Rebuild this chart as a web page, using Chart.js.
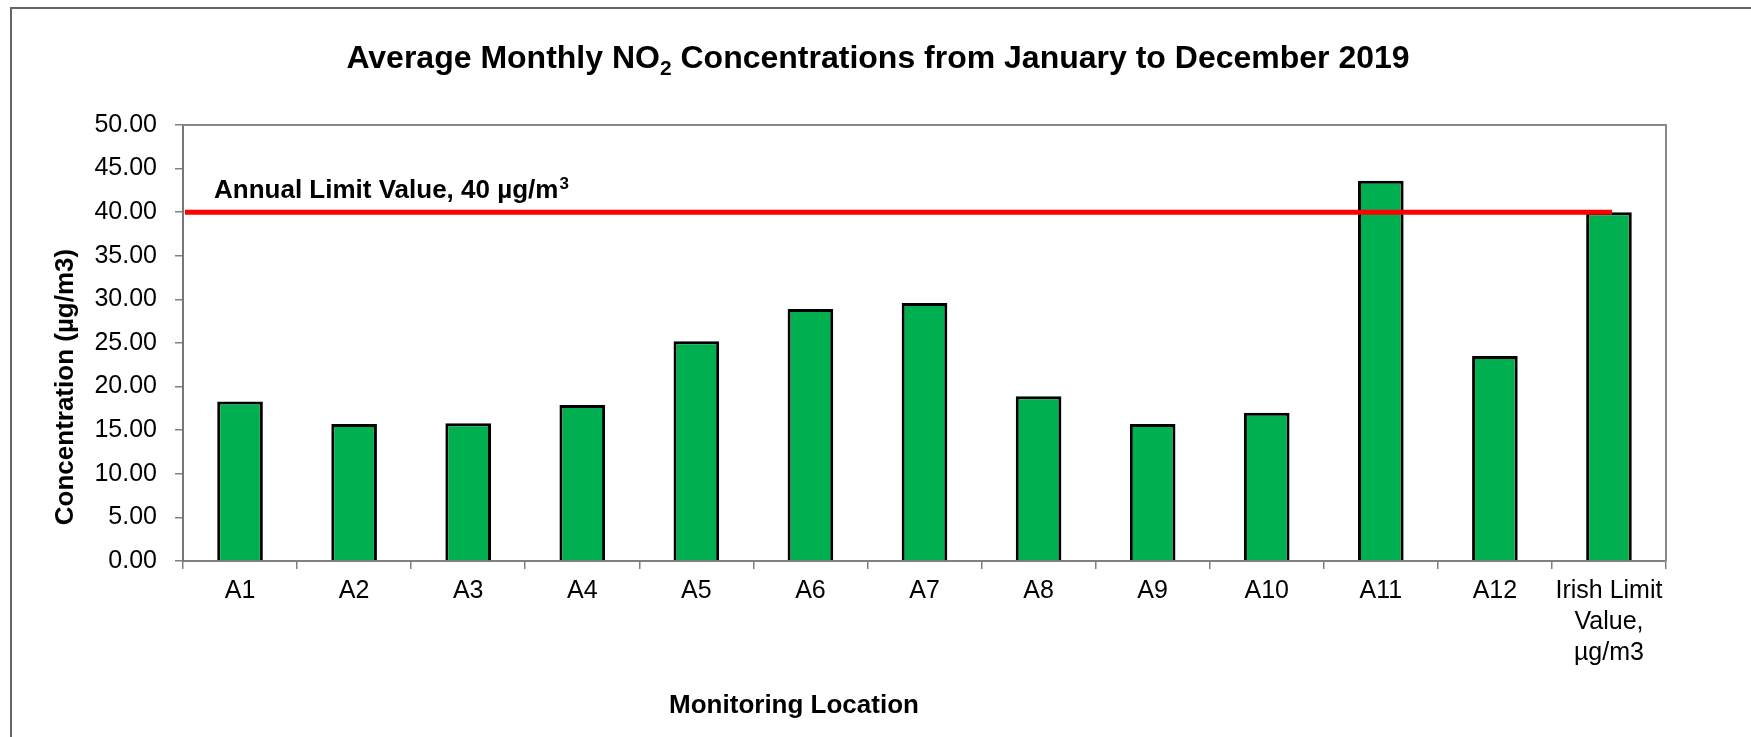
<!DOCTYPE html>
<html>
<head>
<meta charset="utf-8">
<script src="https://cdn.jsdelivr.net/npm/chart.js@4.4.1/dist/chart.umd.min.js"></script>
<style>
  body { margin: 0; background: #fff; }
  #wrap { width: 1751px; height: 737px; position: relative; }
</style>
</head>
<body>
<div id="wrap"><canvas id="no2Chart"></canvas></div>
<script>
const locations = ["A1", "A2", "A3", "A4", "A5", "A6", "A7", "A8", "A9", "A10", "A11", "A12", ["Irish Limit", "Value,", "µg/m3"]];
const no2Values = [18.3, 15.7, 15.8, 17.9, 25.2, 28.9, 29.6, 18.9, 15.7, 17.0, 43.6, 23.5, 40.0];
const yMin = 0;
const yMax = 50;
const yStep = 5;
const limitValue = 40;
const limitLabel = "Annual Limit Value, 40 µg/m";
const limitLabelSup = "3";

const FONT = "'Liberation Sans', Arial, sans-serif";

// titles, limit line and borders drawn on top of the chart
const decorPlugin = {
    id: "decor",
    beforeDraw(chart) {
        let ctx = chart.ctx;
        ctx.save();
        ctx.fillStyle = "#fff";
        ctx.fillRect(0, 0, chart.width, chart.height);
        // outer chart border (runs off the right and bottom edges)
        ctx.strokeStyle = "#666";
        ctx.lineWidth = 2;
        ctx.beginPath();
        ctx.moveTo(11, chart.height);
        ctx.lineTo(11, 8);
        ctx.lineTo(chart.width, 8);
        ctx.stroke();
        ctx.restore();
    },
    afterDatasetsDraw(chart) {
        let ctx = chart.ctx;
        let area = chart.chartArea;
        let x = chart.scales.x;
        let y = chart.scales.y;
        let yLimit = y.getPixelForValue(limitValue);

        ctx.save();
        // plot area border, top and right
        ctx.strokeStyle = "#888";
        ctx.lineWidth = 2;
        ctx.beginPath();
        ctx.moveTo(area.left, area.top);
        ctx.lineTo(area.right, area.top);
        ctx.lineTo(area.right, area.bottom);
        ctx.stroke();

        // limit line
        ctx.strokeStyle = "#ff0000";
        ctx.lineWidth = 5;
        ctx.beginPath();
        ctx.moveTo(area.left + 2, yLimit);
        ctx.lineTo(x.getPixelForValue(no2Values.length - 1) + 3, yLimit);
        ctx.stroke();

        ctx.fillStyle = "#000";
        ctx.font = "bold 26px " + FONT;
        ctx.textAlign = "left";
        ctx.textBaseline = "alphabetic";
        let lx = area.left + 31;
        let ly = yLimit - 14;
        ctx.fillText(limitLabel, lx, ly);
        let lw = ctx.measureText(limitLabel).width;
        ctx.font = "bold 17px " + FONT;
        ctx.fillText(limitLabelSup, lx + lw + 1, ly - 9);
        ctx.restore();
    },
    afterDraw(chart) {
        let ctx = chart.ctx;
        ctx.save();
        ctx.fillStyle = "#000";
        ctx.textBaseline = "alphabetic";

        // main title with subscript 2
        let big = "bold 32px " + FONT;
        let small = "bold 21px " + FONT;
        let p1 = "Average Monthly NO";
        let p2 = "2";
        let p3 = " Concentrations from January to December 2019";
        ctx.font = big;
        let w1 = ctx.measureText(p1).width;
        let w3 = ctx.measureText(p3).width;
        ctx.font = small;
        let w2 = ctx.measureText(p2).width;
        let startX = 878 - (w1 + w2 + w3) / 2;
        let base = 68;
        ctx.textAlign = "left";
        ctx.font = big;
        ctx.fillText(p1, startX, base);
        ctx.font = small;
        ctx.fillText(p2, startX + w1, base + 7);
        ctx.font = big;
        ctx.fillText(p3, startX + w1 + w2, base);

        // x axis title
        ctx.font = "bold 26px " + FONT;
        ctx.textAlign = "center";
        ctx.fillText("Monitoring Location", 794, 713);

        // y axis title
        ctx.translate(73, 387);
        ctx.rotate(-Math.PI / 2);
        ctx.fillText("Concentration (µg/m3)", 0, 0);
        ctx.restore();
    }
};

window.onload = () => {
    let ctx = document.getElementById("no2Chart").getContext("2d");
    new Chart(ctx, {
        type: "bar",
        data: {
            labels: locations,
            datasets: [{
                label: "NO2",
                data: no2Values,
                backgroundColor: "#00b050",
                borderColor: "#000",
                borderWidth: 3,
                categoryPercentage: 1.0,
                barPercentage: 0.4
            }]
        },
        options: {
            responsive: true,
            maintainAspectRatio: false,
            animation: false,
            layout: { padding: { top: 125, right: 85, left: 0, bottom: 0 } },
            plugins: {
                legend: { display: false },
                title: { display: false },
                tooltip: { enabled: false }
            },
            scales: {
                x: {
                    afterFit: (scale) => { scale.height = 176; },
                    grid: {
                        drawOnChartArea: false,
                        offset: true,
                        tickLength: 8,
                        color: "#808080",
                        lineWidth: 1.5
                    },
                    border: { display: true, color: "#808080", width: 2 },
                    ticks: {
                        color: "#000",
                        padding: 7,
                        maxRotation: 0,
                        autoSkip: false,
                        font: { family: FONT, size: 25, lineHeight: 1.24 }
                    }
                },
                y: {
                    min: yMin,
                    max: yMax,
                    afterFit: (scale) => { scale.width = 183; },
                    grid: {
                        drawOnChartArea: false,
                        tickLength: 8,
                        color: "#808080",
                        lineWidth: 1.5
                    },
                    border: { display: true, color: "#777", width: 2 },
                    ticks: {
                        stepSize: yStep,
                        color: "#000",
                        padding: 18,
                        font: { family: FONT, size: 25 },
                        callback: (value) => Number(value).toFixed(2)
                    }
                }
            }
        },
        plugins: [decorPlugin]
    });
};
</script>
</body>
</html>
